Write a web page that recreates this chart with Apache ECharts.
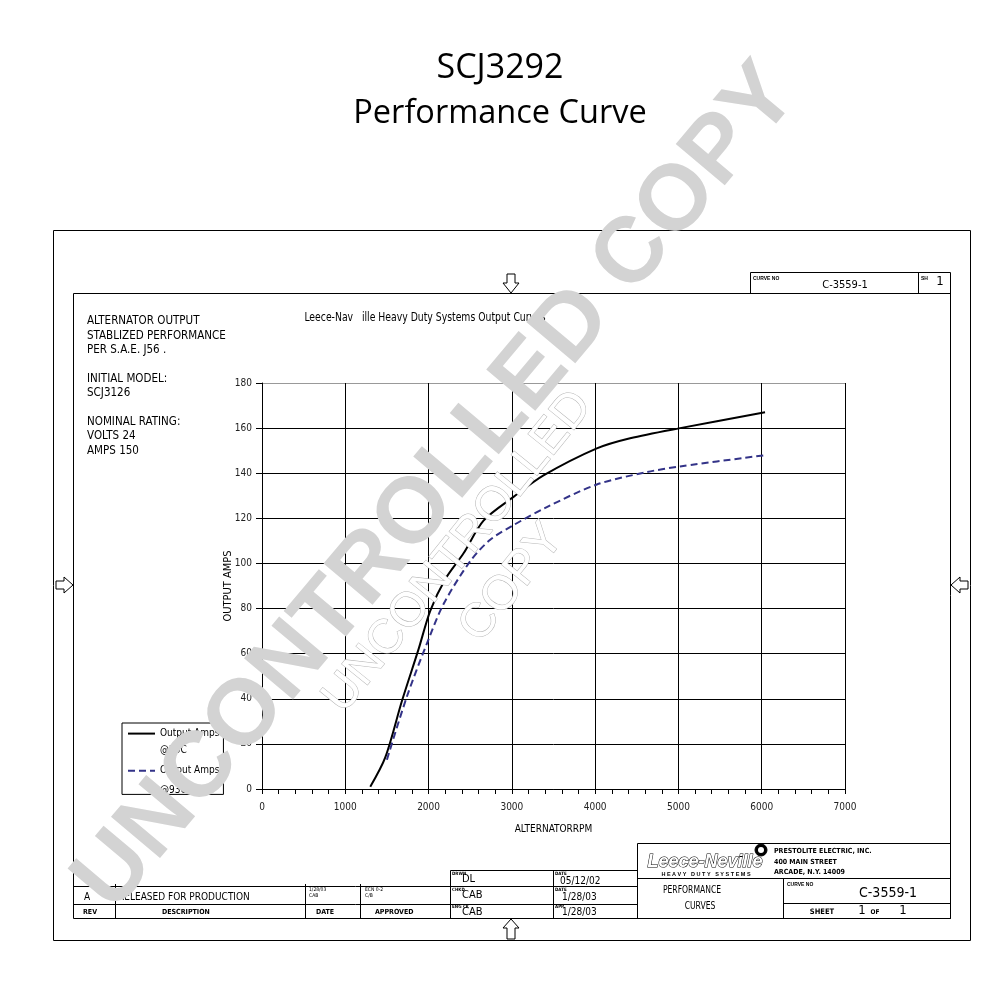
<!DOCTYPE html>
<html>
<head>
<meta charset="utf-8">
<script src="https://cdn.jsdelivr.net/npm/echarts@6/dist/echarts.min.js"></script>
<style>html,body{margin:0;padding:0;background:#fff}#c{width:1000px;height:1000px}</style>
</head>
<body>
<div id="c"></div>
<script>
// ---- data ----
const titleLines = ['SCJ3292', 'Performance Curve'];
const xTicks = [0, 1000, 2000, 3000, 4000, 5000, 6000, 7000];
const yTicks = [0, 20, 40, 60, 80, 100, 120, 140, 160, 180];
const seriesNames = ['Output Amps @25C', 'Output Amps @93C'];
const coldRpm  = [1300, 1480, 1680, 1880, 2020, 2200, 2420, 2660, 3020, 3380, 4020, 4420, 5020, 6040];
const coldAmps = [1, 14, 39, 62, 79, 93, 104.5, 119, 129.5, 139, 151, 155.5, 160, 167];
const hotRpm   = [1500, 1740, 1980, 2180, 2500, 2740, 3020, 3420, 4020, 4620, 5020, 6040];
const hotAmps  = [13, 41, 64.5, 82, 101, 110.5, 117, 125, 135, 140.5, 143, 148];
const infoLines = ['ALTERNATOR OUTPUT', 'STABLIZED PERFORMANCE', 'PER S.A.E. J56 .', '', 'INITIAL MODEL:', 'SCJ3126', '', 'NOMINAL RATING:', 'VOLTS 24', 'AMPS 150'];

const NARROW = "'Liberation Sans Narrow','DejaVu Sans Condensed','Liberation Sans',sans-serif";
const SANS = "'Liberation Sans',Arial,sans-serif";

const G = [];
const Ln = (x1, y1, x2, y2, w, c) => G.push({type:'line', silent:true, z:5, shape:{x1, y1, x2, y2}, style:{stroke:c||'#000', lineWidth:w||1}});
const Tx = (x, y, text, size, o, sx) => G.push({type:'text', silent:true, z:6, x, y, scaleX:sx||1, style:Object.assign({text, fontSize:size, fontFamily:NARROW, fill:'#000', align:'left', verticalAlign:'middle'}, o||{})});
const Poly = (pts) => G.push({type:'polygon', silent:true, z:5, shape:{points:pts}, style:{fill:'#fff', stroke:'#000', lineWidth:1}});

// outer frame
G.push({type:'rect', silent:true, z:5, shape:{x:53.5, y:230.5, width:917, height:710}, style:{fill:'none', stroke:'#000', lineWidth:1}});
// inner frame
Ln(73.5, 293.5, 950.5, 293.5);
Ln(73.5, 293.5, 73.5, 918.5);
Ln(950.5, 272.5, 950.5, 918.5);
Ln(73.5, 918.5, 950.5, 918.5);
// top right curve box
Ln(750.5, 272.5, 950.5, 272.5);
Ln(750.5, 272.5, 750.5, 293.5);
Ln(918.5, 272.5, 918.5, 293.5);
Tx(753, 279, 'CURVE NO', 5, {fontWeight:'bold', fontFamily:SANS});
Tx(845, 285, 'C-3559-1', 11, {align:'center'});
Tx(921, 279, 'SH', 5, {fontWeight:'bold', fontFamily:SANS});
Tx(940, 282, '1', 13, {align:'center'});

// arrows
Poly([[507,274],[515,274],[515,283],[519,283],[511,293],[503,283],[507,283]]);
Poly([[511,919],[519,928],[515,928],[515,939],[507,939],[507,928],[503,928]]);
Poly([[56,581],[64,581],[64,577],[73,585],[64,593],[64,589],[56,589]]);
Poly([[968,581],[960,581],[960,577],[951,585],[960,593],[960,589],[968,589]]);

// info text
infoLines.forEach((t, i) => { if (t) Tx(87, 321 + i * 14.4, t, 12, null, 0.96); });
Tx(425, 318, 'Leece-Nav   ille Heavy Duty Systems Output Curves', 12, {align:'center'}, 0.86);

// revision block
Ln(73.5, 886.5, 637.5, 886.5);
Ln(73.5, 904.5, 637.5, 904.5);
Ln(450.5, 870.5, 637.5, 870.5);
Ln(115.5, 884, 115.5, 918.5);
Ln(305.5, 884, 305.5, 918.5);
Ln(360.5, 884, 360.5, 918.5);
Ln(450.5, 870.5, 450.5, 918.5);
Ln(553.5, 870.5, 553.5, 918.5);
Tx(84, 897, 'A', 10);
Tx(118, 897, 'RELEASED FOR PRODUCTION', 10);
Tx(309, 890, '1/28/03', 5);
Tx(309, 896, 'CAB', 5);
Tx(365, 890, 'ECN 0-2', 5);
Tx(365, 896, 'C/B', 5);
Tx(83, 912, 'REV', 7, {fontWeight:'bold'});
Tx(162, 912, 'DESCRIPTION', 7, {fontWeight:'bold'});
Tx(316, 912, 'DATE', 7, {fontWeight:'bold'});
Tx(375, 912, 'APPROVED', 7, {fontWeight:'bold'});
Tx(452, 874, 'DRWN', 4.5, {fontWeight:'bold'});
Tx(462, 879, 'DL', 11);
Tx(555, 874, 'DATE', 4.5, {fontWeight:'bold'});
Tx(560, 881, '05/12/02', 10);
Tx(452, 890, 'CHKD', 4.5, {fontWeight:'bold'});
Tx(462, 895, 'CAB', 11);
Tx(555, 890, 'DATE', 4.5, {fontWeight:'bold'});
Tx(562, 897, '1/28/03', 10);
Tx(452, 907, 'ENG CK', 4.5, {fontWeight:'bold'});
Tx(462, 912, 'CAB', 11);
Tx(555, 907, 'APP', 4.5, {fontWeight:'bold'});
Tx(562, 912, '1/28/03', 10);

// right title block
G.push({type:'rect', silent:true, z:5, shape:{x:637.5, y:843.5, width:313, height:75}, style:{fill:'none', stroke:'#000', lineWidth:1}});
Ln(637.5, 878.5, 950.5, 878.5);
Ln(783.5, 878.5, 783.5, 918.5);
Ln(783.5, 903.5, 950.5, 903.5);
Tx(705, 862, 'Leece-Neville', 18, {align:'center', fontStyle:'italic', fontWeight:'bold', fontFamily:SANS, fill:'#fff', stroke:'#000', lineWidth:1});
Tx(706, 874, 'H E A V Y   D U T Y   S Y S T E M S', 5.5, {align:'center', fontWeight:'bold', fontFamily:SANS});
G.push({type:'circle', silent:true, z:5, shape:{cx:761, cy:850, r:6}, style:{fill:'#000', stroke:'#000'}});
G.push({type:'circle', silent:true, z:6, shape:{cx:761, cy:850, r:3}, style:{fill:'#fff'}});
Tx(774, 851, 'PRESTOLITE ELECTRIC, INC.', 7, {fontWeight:'bold'});
Tx(774, 862, '400 MAIN STREET', 7, {fontWeight:'bold'});
Tx(774, 872, 'ARCADE, N.Y. 14009', 7, {fontWeight:'bold'});
Tx(692, 890, 'PERFORMANCE', 10, {align:'center'}, 0.85);
Tx(700, 906, 'CURVES', 10, {align:'center'}, 0.85);
Tx(787, 885, 'CURVE NO', 5, {fontWeight:'bold', fontFamily:SANS});
Tx(888, 893, 'C-3559-1', 14, {align:'center'});
Tx(822, 912, 'SHEET', 7.5, {align:'center', fontWeight:'bold'});
Tx(862, 911, '1', 13, {align:'center'});
Tx(875, 912, 'OF', 6.5, {align:'center', fontWeight:'bold'});
Tx(903, 911, '1', 13, {align:'center'});

// legend second lines
Tx(160, 750, '@25C', 10);
Tx(160, 790, '@93C', 10);

// watermarks (on top)
const ang = 50 * Math.PI / 180;
G.push({type:'text', silent:true, z:50, x:437, y:488, rotation:ang,
  style:{text:'UNCONTROLLED COPY', fontSize:93, fontWeight:'bold', fontFamily:SANS, fill:'#d3d3d3', align:'center', verticalAlign:'middle'}});
G.push({type:'text', silent:true, z:60, x:458, y:552, rotation:51 * Math.PI / 180,
  style:{text:'UNCONTROLLED', fontSize:48, fontFamily:SANS, fill:'#fff', stroke:'#b5b5b5', lineWidth:1, align:'center', verticalAlign:'middle'}});
G.push({type:'text', silent:true, z:60, x:512, y:583, rotation:51 * Math.PI / 180,
  style:{text:'COPY', fontSize:48, fontFamily:SANS, fill:'#fff', stroke:'#b5b5b5', lineWidth:1, align:'center', verticalAlign:'middle'}});

const chart = echarts.init(document.getElementById('c'), null, {renderer:'canvas'});
chart.setOption({
  backgroundColor:'#fff',
  animation:false,
  title:[
    {text:titleLines[0], left:'center', top:46, textStyle:{fontSize:34, fontWeight:'normal', fontFamily:"'Open Sans',sans-serif", color:'#000'}},
    {text:titleLines[1], left:'center', top:92, textStyle:{fontSize:32.5, fontWeight:'normal', fontFamily:"'Open Sans',sans-serif", color:'#000'}}
  ],
  grid:{left:262, right:155, top:383, bottom:211, containLabel:false},
  legend:{
    orient:'vertical', left:122, top:723, padding:[5, 4, 18, 5], itemGap:26,
    itemWidth:27, itemHeight:14, borderColor:'#000', borderWidth:1,
    data:seriesNames,
    itemStyle:{opacity:0},
    formatter:(n) => n.replace(/ @.*$/, ''),
    textStyle:{fontSize:10, fontFamily:NARROW, color:'#000'}
  },
  xAxis:{
    type:'value', min:xTicks[0], max:xTicks[xTicks.length - 1], interval:1000,
    name:'ALTERNATORRPM', nameLocation:'middle', nameGap:35, nameMoveOverlap:false,
    nameTextStyle:{fontSize:10, fontFamily:NARROW, color:'#000'},
    axisLine:{show:true, lineStyle:{color:'#000', width:1}},
    axisTick:{show:true, inside:false, length:5, lineStyle:{color:'#000'}},
    minorTick:{show:true, splitNumber:5, length:5, lineStyle:{color:'#000'}},
    axisLabel:{fontSize:10, fontFamily:NARROW, color:'#222', margin:13, formatter:(v) => String(v)},
    splitLine:{show:true, lineStyle:{color:'#000', width:1}}
  },
  yAxis:{
    type:'value', min:yTicks[0], max:yTicks[yTicks.length - 1], interval:20,
    name:'OUTPUT AMPS', nameLocation:'middle', nameGap:28, nameRotate:90, nameMoveOverlap:false,
    nameTextStyle:{fontSize:11, fontFamily:NARROW, color:'#000'},
    axisLine:{show:true, lineStyle:{color:'#000', width:1}},
    axisTick:{show:true, inside:false, length:6, lineStyle:{color:'#000'}},
    axisLabel:{fontSize:10, fontFamily:NARROW, color:'#222', margin:10, formatter:(v) => String(v)},
    splitLine:{show:true, lineStyle:{color:['#000','#000','#000','#000','#000','#000','#000','#000','#000','#999'], width:1}}
  },
  series:[
    {name:seriesNames[0], type:'line', data:coldRpm.map((r, i) => [r, coldAmps[i]]), smooth:0.3, symbol:'none',
      lineStyle:{color:'#000', width:2, type:'solid'}, itemStyle:{color:'#000'}, z:3},
    {name:seriesNames[1], type:'line', data:hotRpm.map((r, i) => [r, hotAmps[i]]), smooth:0.3, symbol:'none',
      lineStyle:{color:'#333388', width:2, type:[7, 4]}, itemStyle:{color:'#333388'}, z:3}
  ],
  graphic:{elements:G}
});
</script>
</body>
</html>
